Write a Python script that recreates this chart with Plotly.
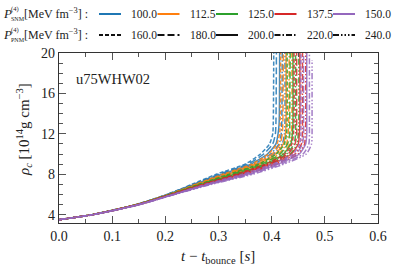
import plotly.graph_objects as go

# ---------------- data ----------------
p_snm = [100.0, 112.5, 125.0, 137.5, 150.0]      # colour legend values
p_pnm = [160.0, 180.0, 200.0, 220.0, 240.0]      # dash legend values
model_name = "u75WHW02"

# central density levels [1e14 g/cm^3] at which the times below are read
rho_levels = [3.5, 4, 5, 6, 7, 8, 9, 10, 11, 12, 13, 21]

# time after bounce [s] at which each curve reaches rho_levels
# rows: P_PNM = 160, 180, 200, 220, 240
t_p100 = [
    [0, .062, .145, .203, .250, .296, .350, .379, .396, .402, .403, .404],
    [0, .062, .146, .204, .253, .301, .355, .385, .402, .407, .408, .409],
    [0, .062, .146, .205, .255, .306, .361, .392, .408, .412, .414, .415],
    [0, .063, .147, .206, .258, .311, .366, .398, .414, .418, .419, .420],
    [0, .063, .147, .207, .261, .316, .372, .404, .420, .424, .425, .425],
]
t_p112 = [
    [0, .063, .146, .206, .257, .308, .363, .394, .410, .415, .416, .417],
    [0, .063, .147, .207, .259, .313, .368, .401, .416, .420, .421, .422],
    [0, .063, .147, .208, .262, .318, .374, .407, .422, .426, .427, .427],
    [0, .063, .148, .209, .265, .323, .379, .413, .428, .431, .432, .433],
    [0, .063, .148, .210, .267, .329, .384, .420, .434, .437, .438, .438],
]
t_p125 = [
    [0, .063, .148, .208, .263, .320, .376, .409, .424, .428, .429, .429],
    [0, .063, .148, .209, .266, .325, .381, .416, .430, .434, .434, .435],
    [0, .064, .149, .211, .269, .331, .387, .422, .436, .439, .440, .440],
    [0, .064, .149, .212, .271, .336, .392, .428, .442, .445, .445, .445],
    [0, .064, .150, .213, .274, .341, .397, .435, .448, .450, .451, .451],
]
t_p137 = [
    [0, .064, .149, .211, .270, .333, .389, .425, .438, .441, .442, .442],
    [0, .064, .149, .212, .272, .338, .394, .431, .444, .447, .447, .447],
    [0, .064, .150, .213, .275, .343, .399, .437, .450, .452, .453, .453],
    [0, .064, .150, .214, .278, .348, .405, .444, .456, .458, .458, .458],
    [0, .065, .151, .215, .281, .353, .410, .450, .462, .463, .464, .464],
]
t_p150 = [
    [0, .064, .150, .214, .276, .345, .402, .440, .453, .455, .455, .455],
    [0, .064, .151, .215, .279, .350, .407, .446, .458, .460, .460, .460],
    [0, .065, .151, .216, .282, .355, .412, .452, .464, .466, .466, .466],
    [0, .065, .152, .217, .284, .360, .418, .459, .470, .471, .471, .471],
    [0, .065, .152, .218, .287, .365, .423, .465, .475, .476, .476, .476],
]
# last density reached by each P_PNM curve of the P_SNM = 150 group
rho_top_p150 = [21, 21, 21, 21, 19.3]

t_all = [t_p100, t_p112, t_p125, t_p137, t_p150]

# ---------------- styles ----------------
colors = ["#1f77b4", "#ff7f0e", "#2ca02c", "#d62728", "#9467bd"]
rgba = ["rgba(31,119,180,0.85)", "rgba(255,127,14,0.85)", "rgba(44,160,44,0.85)",
        "rgba(214,39,40,0.85)", "rgba(148,103,189,0.85)"]
dashes = ["4px,2px", "7px,3px", "solid", "6px,2px,1.5px,2px",
          "6px,2px,1.5px,2px,1.5px,2px,1.5px,2px"]

FONT = "Liberation Serif"
TXT = "#222222"
W, H = 399, 266
ML, MR, MT, MB = 59, 21, 53, 43
PW, PH = W - ML - MR, H - MT - MB


def px(x):
    return (x - ML) / PW


def py(y):
    return (H - MB - y) / PH


fig = go.Figure()
for ci, rows in enumerate(t_all):
    for di, row in enumerate(rows):
        rho = list(rho_levels)
        if ci == 4:
            rho[-1] = rho_top_p150[di]
        fig.add_trace(go.Scatter(
            x=row, y=rho, mode="lines", showlegend=False, hoverinfo="skip",
            line=dict(color=rgba[ci], width=1.5, dash=dashes[di], shape="spline",
                      smoothing=0.6),
        ))

axis_common = dict(
    showgrid=False, zeroline=False, showline=True, linecolor="#333333", linewidth=1.3,
    mirror="allticks", ticks="inside", ticklen=7, tickwidth=1, tickcolor="#555555",
    tickfont=dict(family=FONT, size=14, color=TXT), automargin=False,
)
fig.update_xaxes(
    range=[0, 0.6], dtick=0.1, tick0=0, tickformat=".1f",
    minor=dict(ticks="inside", dtick=0.05, tick0=0, ticklen=4, tickcolor="#555555"),
    **axis_common,
)
fig.update_yaxes(
    range=[3.17, 20], tickvals=[4, 8, 12, 16, 20],
    minor=dict(ticks="inside", dtick=1, tick0=0, ticklen=4, tickcolor="#555555"),
    **axis_common,
)

ann = []
shapes = []


def text(x, y, s, size, xanchor="left", **kw):
    ann.append(dict(x=px(x), y=py(y), xref="paper", yref="paper", showarrow=False,
                    xanchor=xanchor, yanchor="middle", text=s, borderpad=0,
                    font=dict(family=FONT, size=size, color=TXT), **kw))


# axis titles
text(218, 257, "<i>t</i> − <i>t</i><sub>bounce</sub> [<i>s</i>]", 15, xanchor="center")
text(24, 130, "<i>ρ<sub>c</sub></i> [10<sup>14</sup>g cm<sup>−3</sup>]", 15,
     xanchor="center", textangle=-90)
# model label
text(75, 79, model_name, 14.5)

# manual legend
rows_y = [14, 35]
subs = ["SNM", "PNM"]
for r, yy in enumerate(rows_y):
    text(2, yy, "<i>P</i>", 13)
    text(10, yy - 5, "(4)", 6.5)
    text(9.5, yy + 4.5, subs[r], 6)
    text(23, yy, "[MeV fm<sup>−3</sup>] :", 12)
    for k in range(5):
        x0 = 99 + 58.5 * k
        if r == 0:
            col, dash, lab = colors[k], "solid", p_snm[k]
        else:
            col, dash, lab = "#111111", dashes[k], p_pnm[k]
        shapes.append(dict(type="line", xref="paper", yref="paper",
                           x0=px(x0), x1=px(x0 + 22), y0=py(yy), y1=py(yy),
                           line=dict(color=col, width=2, dash=dash)))
        text(x0 + 31, yy, f"{lab:.1f}", 11.5)

fig.update_layout(
    width=W, height=H, margin=dict(l=ML, r=MR, t=MT, b=MB),
    paper_bgcolor="white", plot_bgcolor="white",
    annotations=ann, shapes=shapes, showlegend=False,
)
fig.write_html("out.html", config={"displayModeBar": False},
               post_script="document.body.style.margin='0';document.body.style.overflow='hidden';")
